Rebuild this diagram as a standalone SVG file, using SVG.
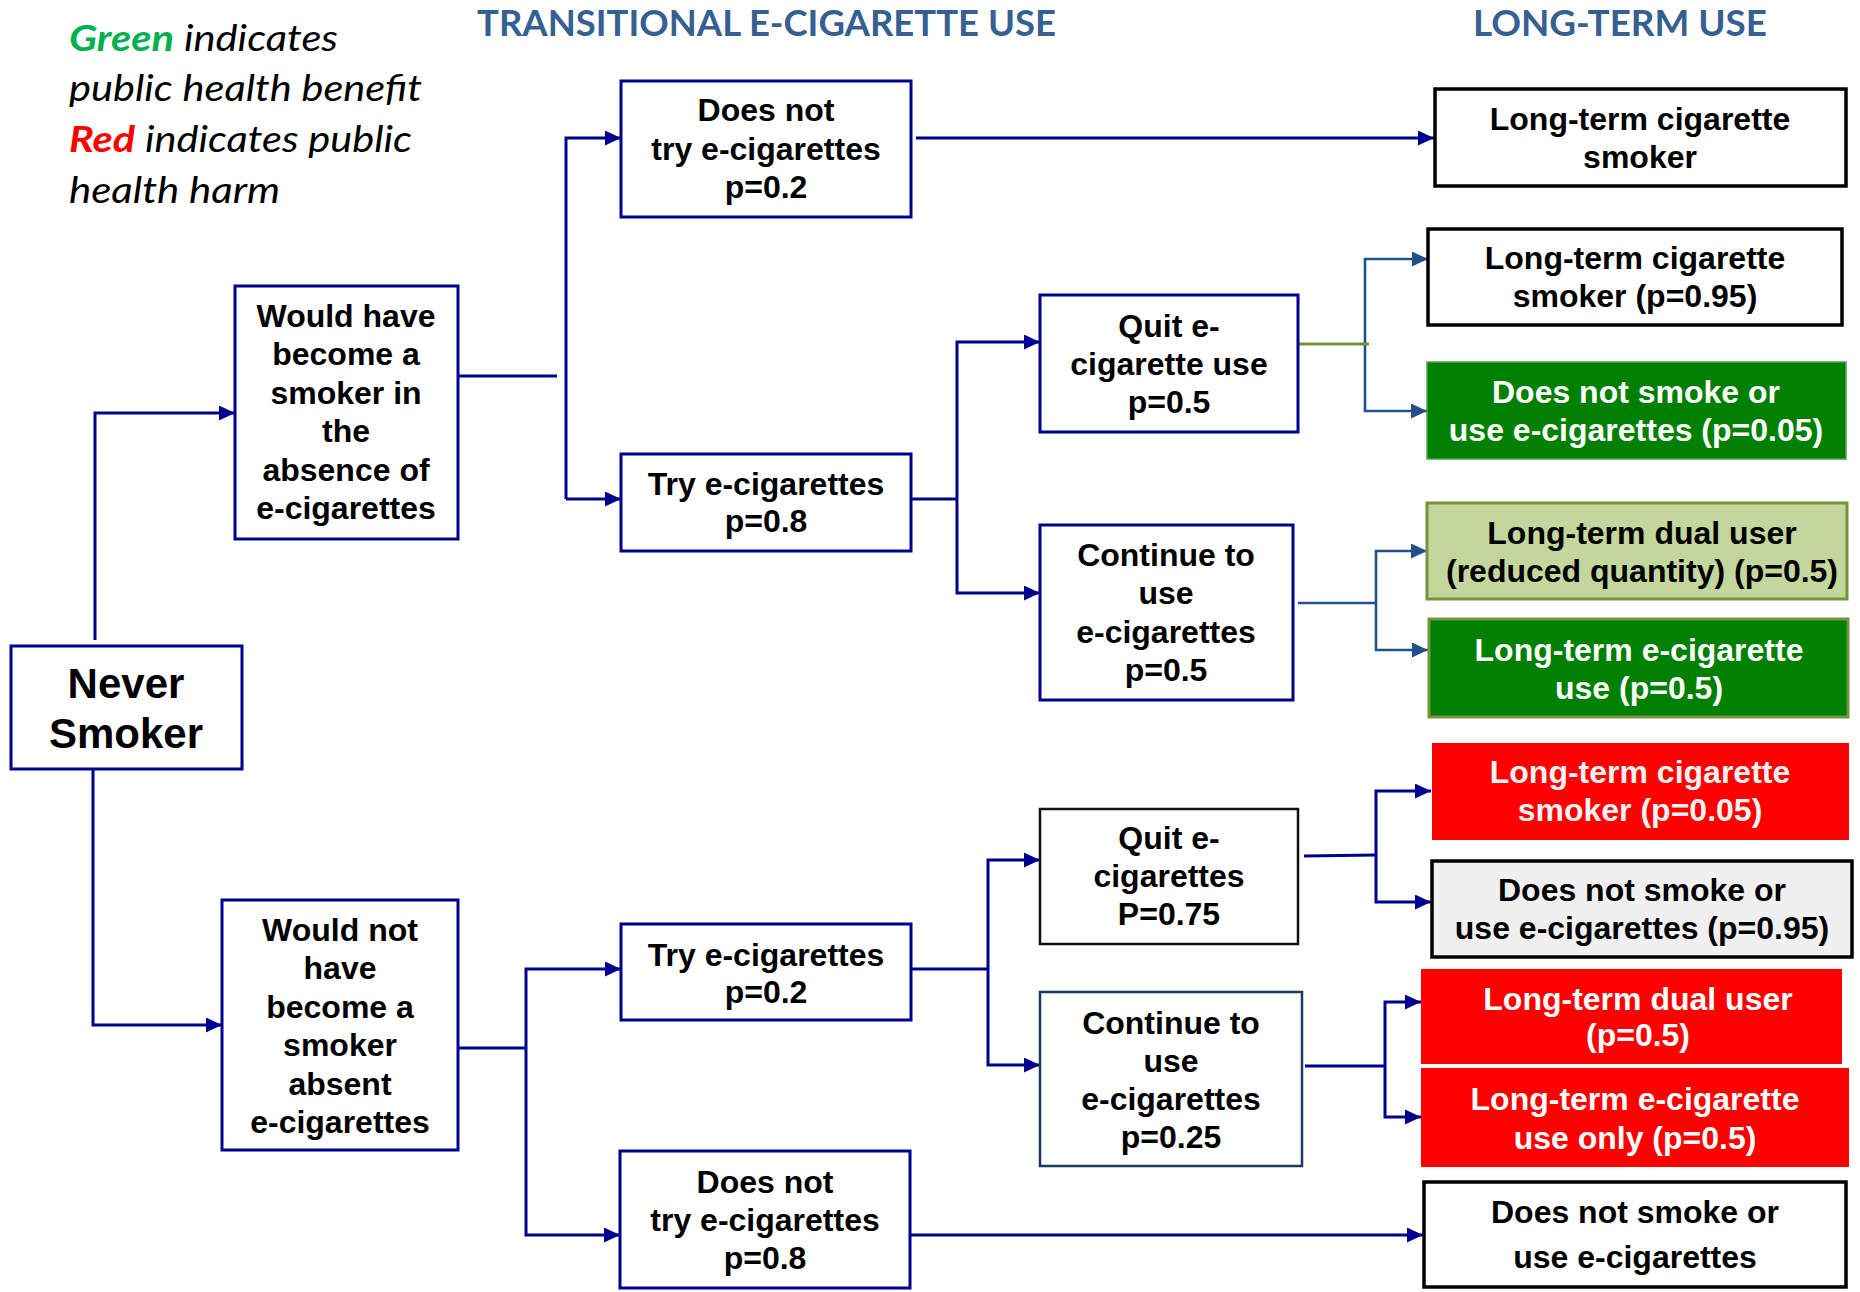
<svg xmlns="http://www.w3.org/2000/svg" width="1860" height="1292" viewBox="0 0 1860 1292">
<style>
.t{font-family:"Liberation Sans",Arial,sans-serif;font-weight:bold;font-size:32px;text-anchor:middle;fill:#000}
.w{fill:#fff}
.big{font-size:42px}
.nb{fill:#fff;stroke:#000090;stroke-width:3}
.bk{fill:#fff;stroke:#000;stroke-width:3.5}
.lg{font-family:Lato,"Open Sans",sans-serif;font-style:italic;font-size:37px;fill:#000}
.ttl{font-family:Lato,"Open Sans",sans-serif;font-weight:bold;font-size:36px;fill:#376092}
.cn{fill:none;stroke:#000090;stroke-width:3}
.cs{fill:none;stroke:#24508A;stroke-width:2.6}
</style>
<defs>
<marker id="an" markerUnits="userSpaceOnUse" markerWidth="17" markerHeight="16" refX="16" refY="7.5" orient="auto"><path d="M0,0 L16,7.5 L0,15 z" fill="#000090"/></marker>
<marker id="as" markerUnits="userSpaceOnUse" markerWidth="17" markerHeight="16" refX="16" refY="7.5" orient="auto"><path d="M0,0 L16,7.5 L0,15 z" fill="#24508A"/></marker>
</defs>
<rect width="1860" height="1292" fill="#fff"/>

<g id="legend">
<text x="69" y="51" class="lg" textLength="269" lengthAdjust="spacingAndGlyphs"><tspan font-weight="bold" fill="#00B050">Green</tspan> indicates</text>
<text x="69" y="101" class="lg" textLength="353" lengthAdjust="spacingAndGlyphs">public health benefit</text>
<text x="69" y="152" class="lg" textLength="343" lengthAdjust="spacingAndGlyphs"><tspan font-weight="bold" fill="#FF0000">Red</tspan> indicates public</text>
<text x="69" y="203" class="lg" textLength="211" lengthAdjust="spacingAndGlyphs">health harm</text>
</g>
<g id="titles">
<text x="477" y="36" class="ttl" textLength="579" lengthAdjust="spacingAndGlyphs">TRANSITIONAL E-CIGARETTE USE</text>
<text x="1473" y="36" class="ttl" textLength="294" lengthAdjust="spacingAndGlyphs">LONG-TERM USE</text>
</g>

<g id="connectors">
<path class="cn" d="M95 640 V413 H235" marker-end="url(#an)"/>
<path class="cn" d="M93 769 V1025 H222" marker-end="url(#an)"/>
<path class="cn" d="M458 376 H557"/>
<path class="cn" d="M566 499 V138 H621" marker-end="url(#an)"/>
<path class="cn" d="M566 499 H621" marker-end="url(#an)"/>
<path class="cn" d="M916 138 H1434" marker-end="url(#an)"/>
<path class="cn" d="M911 499 H957"/>
<path class="cn" d="M957 499 V342 H1040" marker-end="url(#an)"/>
<path class="cn" d="M957 499 V593 H1040" marker-end="url(#an)"/>
<path class="cn" d="M458 1048 H526"/>
<path class="cn" d="M526 1048 V969 H621" marker-end="url(#an)"/>
<path class="cn" d="M526 1048 V1235 H620" marker-end="url(#an)"/>
<path class="cn" d="M911 969 H988"/>
<path class="cn" d="M988 969 V860 H1040" marker-end="url(#an)"/>
<path class="cn" d="M988 969 V1065 H1040" marker-end="url(#an)"/>
<path class="cn" d="M1304 856 L1376 855"/>
<path class="cn" d="M1376 855 V791 H1431" marker-end="url(#an)"/>
<path class="cn" d="M1376 855 V902 H1431" marker-end="url(#an)"/>
<path class="cn" d="M1305 1066 H1385"/>
<path class="cn" d="M1385 1066 V1002 H1421" marker-end="url(#an)"/>
<path class="cn" d="M1385 1066 V1117 H1421" marker-end="url(#an)"/>
<path class="cn" d="M910 1235 H1423" marker-end="url(#an)"/>
<path class="cs" d="M1365 344 V259 H1428" marker-end="url(#as)"/>
<path class="cs" d="M1365 344 V411 H1427" marker-end="url(#as)"/>
<path d="M1294 344 H1369" fill="none" stroke="#77933C" stroke-width="3"/>
<path class="cs" d="M1298 603 H1376"/>
<path class="cs" d="M1376 603 V551 H1427" marker-end="url(#as)"/>
<path class="cs" d="M1376 603 V650 H1428" marker-end="url(#as)"/>
</g>

<g id="never-smoker">
<rect class="nb" x="11" y="646" width="231" height="123"/>
<text class="t big" x="126" y="698">Never</text>
<text class="t big" x="126" y="748">Smoker</text>
</g>
<g id="would-have">
<rect class="nb" x="235" y="286" width="223" height="253"/>
<text class="t" x="346" y="327">Would have</text>
<text class="t" x="346" y="365">become a</text>
<text class="t" x="346" y="404">smoker in</text>
<text class="t" x="346" y="442">the</text>
<text class="t" x="346" y="481">absence of</text>
<text class="t" x="346" y="519">e-cigarettes</text>
</g>
<g id="would-not-have">
<rect class="nb" x="222" y="900" width="236" height="250"/>
<text class="t" x="340" y="941">Would not</text>
<text class="t" x="340" y="979">have</text>
<text class="t" x="340" y="1018">become a</text>
<text class="t" x="340" y="1056">smoker</text>
<text class="t" x="340" y="1095">absent</text>
<text class="t" x="340" y="1133">e-cigarettes</text>
</g>
<g id="does-not-try-top">
<rect class="nb" x="621" y="81" width="290" height="136"/>
<text class="t" x="766" y="121">Does not</text>
<text class="t" x="766" y="160">try e-cigarettes</text>
<text class="t" x="766" y="198">p=0.2</text>
</g>
<g id="try-08">
<rect class="nb" x="621" y="454" width="290" height="97"/>
<text class="t" x="766" y="495">Try e-cigarettes</text>
<text class="t" x="766" y="532">p=0.8</text>
</g>
<g id="try-02">
<rect class="nb" x="621" y="924" width="290" height="96"/>
<text class="t" x="766" y="966">Try e-cigarettes</text>
<text class="t" x="766" y="1003">p=0.2</text>
</g>
<g id="does-not-try-bottom">
<rect class="nb" x="620" y="1151" width="290" height="137"/>
<text class="t" x="765" y="1193">Does not</text>
<text class="t" x="765" y="1231">try e-cigarettes</text>
<text class="t" x="765" y="1269">p=0.8</text>
</g>
<g id="quit-05">
<rect class="nb" x="1040" y="295" width="258" height="137"/>
<text class="t" x="1169" y="337">Quit e-</text>
<text class="t" x="1169" y="375">cigarette use</text>
<text class="t" x="1169" y="413">p=0.5</text>
</g>
<g id="continue-05">
<rect class="nb" x="1040" y="525" width="253" height="175"/>
<text class="t" x="1166" y="566">Continue to</text>
<text class="t" x="1166" y="604">use</text>
<text class="t" x="1166" y="643">e-cigarettes</text>
<text class="t" x="1166" y="681">p=0.5</text>
</g>
<g id="quit-075">
<rect x="1040" y="809" width="258" height="135" fill="#fff" stroke="#111" stroke-width="2.5"/>
<text class="t" x="1169" y="849">Quit e-</text>
<text class="t" x="1169" y="887">cigarettes</text>
<text class="t" x="1169" y="925">P=0.75</text>
</g>
<g id="continue-025">
<rect x="1040" y="992" width="262" height="174" fill="#fff" stroke="#1F3A60" stroke-width="2.5"/>
<text class="t" x="1171" y="1034">Continue to</text>
<text class="t" x="1171" y="1072">use</text>
<text class="t" x="1171" y="1110">e-cigarettes</text>
<text class="t" x="1171" y="1148">p=0.25</text>
</g>
<g id="lt-cig-smoker">
<rect class="bk" x="1435" y="89" width="411" height="97"/>
<text class="t" x="1640" y="130">Long-term cigarette</text>
<text class="t" x="1640" y="168">smoker</text>
</g>
<g id="lt-cig-095">
<rect class="bk" x="1428" y="229" width="414" height="96"/>
<text class="t" x="1635" y="269">Long-term cigarette</text>
<text class="t" x="1635" y="307">smoker (p=0.95)</text>
</g>
<g id="dns-005">
<rect x="1427" y="362" width="419" height="97" fill="#008000" stroke="#4DA64D" stroke-width="1.5"/>
<text class="t w" x="1636" y="403">Does not smoke or</text>
<text class="t w" x="1636" y="441">use e-cigarettes (p=0.05)</text>
</g>
<g id="dual-reduced">
<rect x="1427" y="503" width="420" height="96" fill="#C3D69B" stroke="#77933C" stroke-width="3"/>
<text class="t" x="1642" y="544">Long-term dual user</text>
<text class="t" x="1642" y="582">(reduced quantity) (p=0.5)</text>
</g>
<g id="lt-ecig-05">
<rect x="1429" y="619" width="419" height="98" fill="#008000" stroke="#77933C" stroke-width="3"/>
<text class="t w" x="1639" y="661">Long-term e-cigarette</text>
<text class="t w" x="1639" y="699">use (p=0.5)</text>
</g>
<g id="lt-cig-005">
<rect x="1432" y="743" width="417" height="97" fill="#FF0000"/>
<text class="t" x="1640" y="783" style="fill:#F2F2F2">Long-term cigarette</text>
<text class="t" x="1640" y="821" style="fill:#F2F2F2">smoker (p=0.05)</text>
</g>
<g id="dns-095">
<rect x="1432" y="861" width="420" height="96" fill="#F0F0F0" stroke="#000" stroke-width="3.5"/>
<text class="t" x="1642" y="901">Does not smoke or</text>
<text class="t" x="1642" y="939">use e-cigarettes (p=0.95)</text>
</g>
<g id="dual-05">
<rect x="1421" y="969" width="421" height="95" fill="#FF0000"/>
<text class="t w" x="1638" y="1010">Long-term dual user</text>
<text class="t w" x="1638" y="1046">(p=0.5)</text>
</g>
<g id="ecig-only-05">
<rect x="1421" y="1068" width="428" height="99" fill="#FF0000"/>
<text class="t w" x="1635" y="1110">Long-term e-cigarette</text>
<text class="t w" x="1635" y="1149">use only (p=0.5)</text>
</g>
<g id="dns-bottom">
<rect class="bk" x="1424" y="1182" width="422" height="105"/>
<text class="t" x="1635" y="1223">Does not smoke or</text>
<text class="t" x="1635" y="1268">use e-cigarettes</text>
</g>
</svg>
